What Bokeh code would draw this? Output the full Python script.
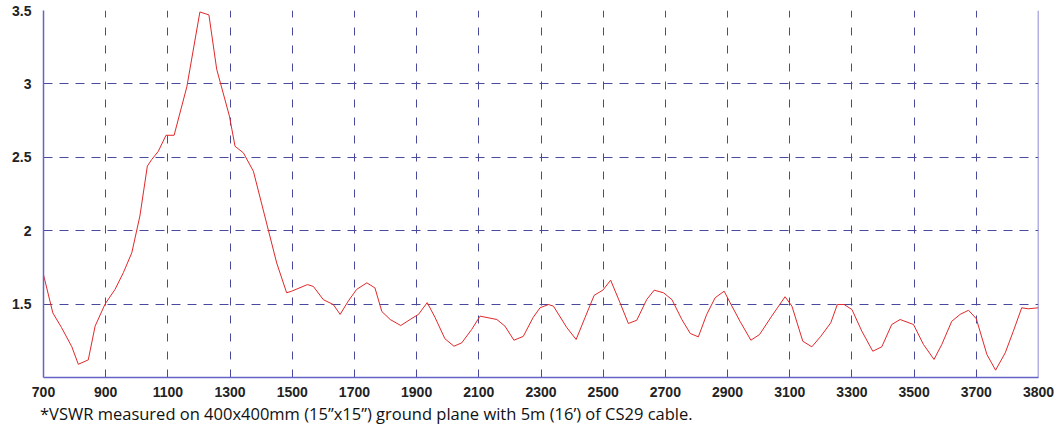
from bokeh.plotting import figure
from bokeh.models import FixedTicker, Range1d, Span, Div
from bokeh.layouts import column
from bokeh.embed import file_html
from bokeh.resources import INLINE

# Frequency (MHz, axis units) and VSWR
freq = [700, 730, 758, 791, 812, 844, 866, 898, 930, 957, 984, 1010, 1034, 1048, 1069,
        1094, 1120, 1161, 1203, 1232, 1257, 1298, 1316, 1343, 1375, 1450, 1482, 1498,
        1549, 1568, 1600, 1632, 1654, 1680, 1707, 1740, 1766, 1788, 1815, 1849, 1879,
        1906, 1934, 1959, 1991, 2020, 2045, 2077, 2104, 2158, 2184, 2213, 2243, 2275,
        2297, 2324, 2340, 2383, 2413, 2442, 2471, 2499, 2524, 2554, 2581, 2608, 2640,
        2664, 2694, 2721, 2753, 2780, 2806, 2833, 2860, 2889, 2908, 2940, 2975, 3003,
        3042, 3085, 3107, 3142, 3171, 3200, 3232, 3253, 3275, 3300, 3332, 3367, 3396,
        3428, 3455, 3498, 3530, 3564, 3589, 3621, 3648, 3675, 3700, 3734, 3762, 3793,
        3819, 3846, 3867, 3900]
vswr = [1.70, 1.44, 1.34, 1.21, 1.09, 1.12, 1.35, 1.50, 1.60, 1.715, 1.85, 2.10, 2.44,
        2.485, 2.54, 2.65, 2.65, 2.98, 3.49, 3.47, 3.10, 2.78, 2.575, 2.53, 2.405, 1.78,
        1.577, 1.588, 1.633, 1.62, 1.53, 1.497, 1.43, 1.52, 1.60, 1.645, 1.61, 1.45,
        1.395, 1.354, 1.395, 1.43, 1.51, 1.41, 1.264, 1.213, 1.236, 1.327, 1.418, 1.395,
        1.35, 1.254, 1.28, 1.41, 1.475, 1.497, 1.486, 1.34, 1.259, 1.41, 1.56, 1.595,
        1.663, 1.51, 1.368, 1.39, 1.531, 1.595, 1.577, 1.531, 1.395, 1.30, 1.277, 1.43,
        1.543, 1.588, 1.51, 1.383, 1.254, 1.293, 1.418, 1.55, 1.486, 1.247, 1.209, 1.281,
        1.373, 1.497, 1.497, 1.463, 1.315, 1.179, 1.209, 1.361, 1.395, 1.361, 1.225,
        1.123, 1.225, 1.383, 1.43, 1.458, 1.40, 1.157, 1.05, 1.168, 1.315, 1.475, 1.468,
        1.475]

x_ticks = [700, 900, 1100, 1300, 1500, 1700, 1900, 2100, 2300, 2500, 2700, 2900,
           3100, 3300, 3500, 3700, 3900]
x_tick_labels = ["700", "900", "1100", "1300", "1500", "1700", "1900", "2100", "2300",
                 "2500", "2700", "2900", "3100", "3300", "3500", "3700", "3800"]
y_ticks = [1.5, 2.0, 2.5, 3.0, 3.5]
y_tick_labels = ["1.5", "2", "2.5", "3", "3.5"]
footnote = "*VSWR measured on 400x400mm (15\u201dx15\u201d) ground plane with 5m (16\u2019) of CS29 cable."

AXIS = "#6464c8"
GRID = "#4a4a9c"

p = figure(width=1054, height=404, output_backend="svg", toolbar_location=None,
           x_range=Range1d(700, 3900), y_range=Range1d(1.0, 3.5),
           min_border_left=43, min_border_right=16, min_border_top=10, min_border_bottom=27)
p.outline_line_color = None
p.background_fill_color = "white"

p.line(freq, vswr, line_color="#e0282a", line_width=1)

for ax in (p.xaxis[0], p.yaxis[0]):
    ax.axis_line_color = AXIS
    ax.axis_line_width = 1.5
    ax.major_tick_line_color = None
    ax.minor_tick_line_color = None
    ax.major_tick_in = 0
    ax.major_tick_out = 0
    ax.minor_tick_in = 0
    ax.minor_tick_out = 0
    ax.major_label_text_font = "Liberation Sans"
    ax.major_label_text_font_style = "bold"
    ax.major_label_text_font_size = "14px"
    ax.major_label_text_color = "#222222"

p.xaxis.ticker = FixedTicker(ticks=x_ticks)
p.xaxis.major_label_overrides = {t: l for t, l in zip(x_ticks, x_tick_labels)}
p.xaxis.major_label_standoff = 9
p.yaxis.ticker = FixedTicker(ticks=y_ticks)
p.yaxis.major_label_overrides = {t: l for t, l in zip(y_ticks, y_tick_labels)}
p.yaxis.major_label_standoff = 12
p.yaxis.major_label_text_baseline = "top"

p.xgrid.ticker = FixedTicker(ticks=x_ticks[1:-1])
p.ygrid.ticker = FixedTicker(ticks=y_ticks)
p.xgrid.grid_line_color = GRID
p.xgrid.grid_line_dash = "8 10"
p.ygrid.grid_line_color = GRID
p.ygrid.grid_line_dash = "9 7"
p.xgrid.grid_line_width = 1
p.ygrid.grid_line_width = 1

p.add_layout(Span(location=3900, dimension="height", line_color=AXIS, line_width=1.5))

note = Div(text=footnote, width=1010, height=20, margin=(0, 0, 0, 40),
           styles={"font-family": "'Open Sans'", "font-size": "16.5px",
                   "line-height": "20px", "color": "#111111", "white-space": "nowrap"})

layout = column(p, note, spacing=0)
open("out.html", "w").write(file_html(layout, INLINE))
